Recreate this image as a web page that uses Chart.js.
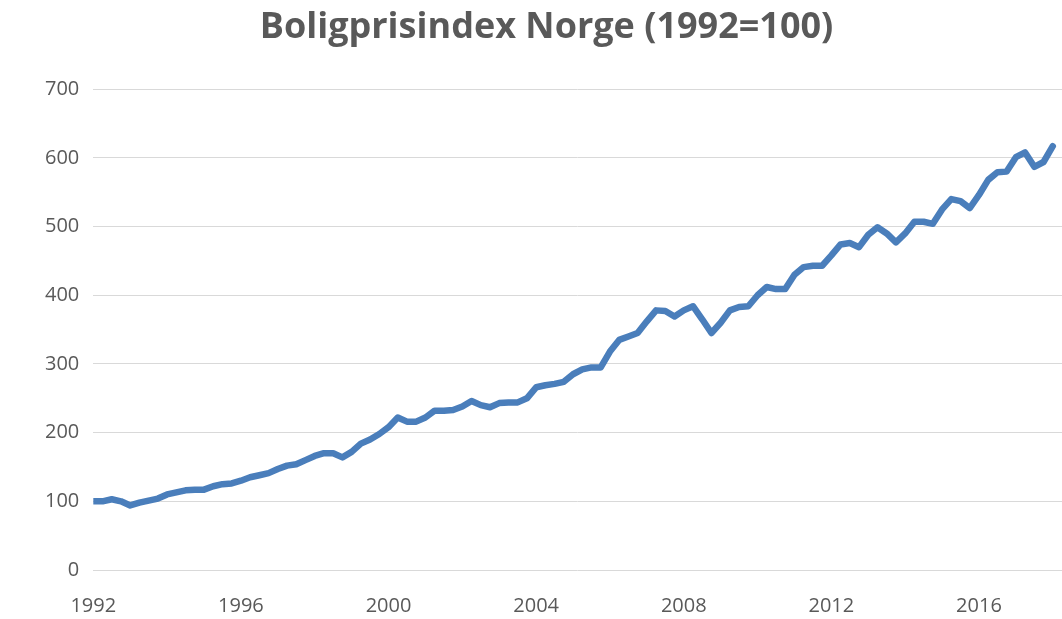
<!DOCTYPE html>
<html>
<head>
<meta charset="utf-8">
<script src="https://cdn.jsdelivr.net/npm/chart.js@4.4.0/dist/chart.umd.min.js"></script>
<style>
  html, body { margin: 0; padding: 0; background: #fff; }
  #wrap { width: 1062px; height: 619px; }
</style>
</head>
<body>
<div id="wrap"><canvas id="boligChart"></canvas></div>
<script>
// kvartalsvis indeks, 1992K1 .. 2018K1
const firstYear = 1992;
const values = [
  100, 100, 103, 100,
  94, 98, 101, 104,
  110, 113, 116, 117,
  117, 122, 125, 126,
  130, 135, 138, 141,
  147, 152, 154, 160,
  166, 170, 170, 164,
  172, 184, 190, 198,
  208, 222, 216, 216,
  222, 232, 232, 233,
  238, 246, 240, 237,
  243, 244, 244, 250,
  266, 269, 271, 274,
  285, 292, 295, 295,
  318, 335, 340, 345,
  362, 378, 377, 369,
  378, 384, 365, 345,
  360, 378, 383, 384,
  400, 412, 409, 409,
  430, 441, 443, 443,
  458, 474, 476, 470,
  488, 499, 490, 477,
  490, 507, 507, 504,
  525, 540, 537, 527,
  546, 568, 579, 580,
  601, 608, 587, 594,
  617
];
const tickYears = ['1992', '1996', '2000', '2004', '2008', '2012', '2016'];
const yTicks = [0, 100, 200, 300, 400, 500, 600, 700];

const points = values.map((v, i) => ({ x: i, y: v }));
const grey = '#595959';

const ctx = document.getElementById('boligChart');
new Chart(ctx, {
  type: 'line',
  data: {
    datasets: [{
      label: 'Boligprisindex',
      data: points,
      borderColor: '#4a7ebb',
      backgroundColor: '#4a7ebb',
      borderWidth: 6.5,
      pointRadius: 0,
      tension: 0,
      borderJoinStyle: 'round',
      borderCapStyle: 'round'
    }]
  },
  options: {
    responsive: true,
    maintainAspectRatio: false,
    animation: false,
    layout: { padding: { left: 31, right: 0, top: 0, bottom: 0 } },
    plugins: {
      legend: { display: false },
      tooltip: { enabled: false },
      title: {
        display: true,
        text: 'Boligprisindex Norge (1992=100)',
        color: grey,
        font: { family: 'Open Sans', size: 36, weight: 'bold' },
        padding: { top: 6, bottom: 40 }
      }
    },
    scales: {
      x: {
        type: 'linear',
        min: 0,
        max: 105,
        grid: { display: false, drawTicks: false },
        border: { display: false },
        afterFit: (axis) => { axis.height = 49; },
        ticks: {
          stepSize: 16,
          includeBounds: false,
          autoSkip: false,
          maxRotation: 0,
          color: grey,
          padding: 24,
          font: { family: 'Open Sans', size: 20 },
          callback: (v) => tickYears[v / 16] || ''
        }
      },
      y: {
        min: 0,
        max: 700,
        grid: { color: '#d9d9d9', lineWidth: 1, drawTicks: false },
        border: { display: false },
        afterBuildTicks: (axis) => { axis.ticks = yTicks.map(v => ({ value: v })); },
        ticks: {
          color: grey,
          padding: 14,
          font: { family: 'Open Sans', size: 20 }
        }
      }
    }
  }
});
</script>
</body>
</html>
